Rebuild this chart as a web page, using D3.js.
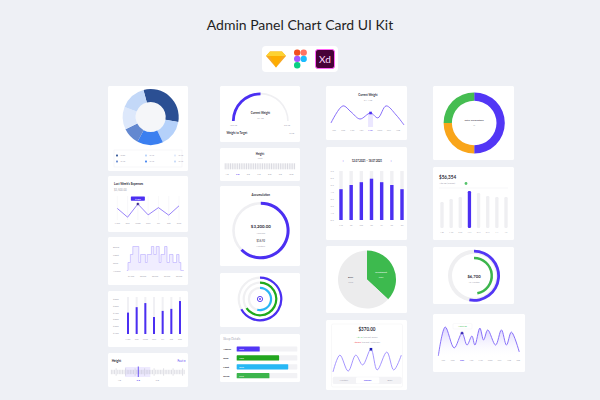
<!DOCTYPE html>
<html>
<head>
<meta charset="utf-8">
<script src="https://cdn.jsdelivr.net/npm/d3@7"></script>
<style>
  body { margin: 0; background: #eef0f5; }
  svg { display: block; }
  svg text { font-family: Lato, "Open Sans", sans-serif; }
</style>
</head>
<body>
<svg id="board" width="600" height="400"></svg>
<script>
// ---- values ----
const mixValues = [32, 15, 15, 10, 13, 15]
const mixColors = ["#2b4f93", "#b5d1fa", "#3b7ff0", "#6388d0", "#dde8fb", "#c3d8f8"]
const mixLegend = [0, 1, 4, 3, 2, 5]

const weekDays = ["Mon", "Tue", "Wed", "Thu", "Fri", "Sat", "Sun"]
const expenses = [610, 270, 780, 360, 640, 350, 710]

const sleepStages = ["Deep", "Light", "Rem", "Awake"]
const sleepHourLabels = ["01:00", "03:00", "05:00", "07:00", "09:00"]
const sleepHourValues = [1, 3, 5, 7, 9]
const sleepSteps = [[0.3, "Awake"], [0.5, "Rem"], [0.9, "Light"], [1.3, "Deep"], [2.3, "Rem"], [2.6, "Light"],
  [3.4, "Rem"], [3.7, "Light"], [4.4, "Deep"], [4.8, "Light"], [5.2, "Deep"], [5.7, "Rem"], [6.0, "Light"],
  [6.6, "Deep"], [7.0, "Rem"], [7.4, "Light"], [8.0, "Rem"], [8.6, "Light"], [9.0, "Rem"], [9.3, "Awake"], [9.8, "Awake"]]

const spendTicks = [600, 500, 400, 300, 200, 100]
const dailySpend = [400, 480, 540, 335, 425, 455, 570]

const feetSmall = [4.667, 5.667, 6.667]
const feetSmallLabels = ["4'8", "5'8", "6'8"]
const feetWide = [4.667, 5.667, 6.667, 7.667, 8.667, 9.667, 10.667]
const feetWideLabels = ["4'8", "5'8", "6'8", "7'8", "8'8", "9'8", "10'8"]

const gaugeShare = 0.5
const accrualShare = 0.625
const ringShares = [0.67, 0.655, 0.54]
const ringColors = ["#4b2ff2", "#1faa1c", "#28b6f5"]

const detailNames = ["Awake", "Rem", "Light", "Deep"]
const detailHours = [3.8, 7.0, 8.5, 5.4]
const detailText = ["3:50", "7:00", "8:30", "5:25"]
const detailColors = ["#5236f5", "#22a61f", "#27b8f5", "#3cb54c"]

const weightMonths = ["Jan", "Feb", "Mar", "Apr", "May", "June", "July", "Aug"]
const weightPoints = [[-0.33, 86.9], [0.98, 94.6], [1.86, 91.9], [2.84, 88.7], [4, 91.4], [4.8, 89.2], [5.7, 94.6], [6.8, 90.5], [7.66, 86]]

const shortDays = ["Mo", "Tu", "We", "Th", "Fr", "Sa", "Su"]
const sleepWeek = [4.4, 5.0, 5.4, 5.9, 5.4, 5.0, 4.4]
const hourTicks = [7, 6, 5, 4, 3, 2, 1, 0]

const savingNames = ["Investment", "Bank"]
const savingShares = [37, 63]

const waveX = [0, 10, 22, 33, 43, 55, 64, 78, 88, 99]
const waveY = [11, 71, 14, 71, 36, 92, 18, 82, 18, 71]

const txShares = [50, 25, 25]
const txColors = ["#5236f5", "#f9a51a", "#45bd51"]

const periods = ["1 D", "1 W", "2 W", "1 M", "3 M", "6 M", "1 Y", "All"]
const periodValues = [26, 29, 31, 37, 35, 32, 31, 31]

const goalShares = [0.53, 0.47]

const trendMonths = ["Jan", "Feb", "Mar", "Apr", "May", "June", "July", "Aug", "Sep"]
const trendPoints = [[-0.53, 6], [0.21, 86], [1.16, 28], [2, 69], [2.53, 36], [3.05, 61], [3.37, 36], [3.9, 83],
  [4.3, 50], [4.74, 78], [5.58, 36], [6.2, 78], [6.74, 36], [7.26, 72], [8.1, 17]]

// ---- helpers ----
const svg = d3.select("#board")
const ink = "#2d2d3a", mute = "#a3a3b0", violet = "#4b2ff2"

function note(x, y, s, size, fill, anchor, weight) {
  return svg.append("text")
    .attr("x", x).attr("y", y)
    .attr("font-size", size)
    .attr("fill", fill || mute)
    .attr("text-anchor", anchor || "middle")
    .attr("font-weight", weight || 400)
    .text(s)
}

// title + tool icons
note(300, 30, "Admin Panel Chart Card UI Kit", 14, "#1f1f24")
svg.append("rect").attr("x", 262).attr("y", 46).attr("width", 76).attr("height", 26).attr("rx", 4).attr("fill", "#fff")
svg.append("polygon").attr("points", "270,51.5 282,51.5 286,56 276,67.5 266,56").attr("fill", "#f7a823")
svg.append("polygon").attr("points", "270,51.5 282,51.5 286,56 266,56").attr("fill", "#fdd231")
svg.append("polygon").attr("points", "270,56 282,56 276,67.5").attr("fill", "#fdad00")
const figma = [["#f24e1e", 294, 49.5, "r"], ["#ff7262", 300.5, 49.5, "r"], ["#a259ff", 294, 55.8, "r"], ["#1abcfe", 300.5, 55.8, "c"], ["#0acf83", 294, 62.1, "b"]]
figma.forEach(f => {
  if (f[3] == "c") svg.append("circle").attr("cx", f[1] + 3.2).attr("cy", f[2] + 3.15).attr("r", 3.15).attr("fill", f[0])
  else svg.append("rect").attr("x", f[1]).attr("y", f[2]).attr("width", 6.4).attr("height", 6.3).attr("rx", 3).attr("fill", f[0])
})
svg.append("rect").attr("x", 315.5).attr("y", 49.5).attr("width", 19).attr("height", 19).attr("rx", 2.5)
  .attr("fill", "#470137").attr("stroke", "#ff61f6").attr("stroke-width", 1)
note(325, 63, "Xd", 10, "#ffd7fa", "middle", 400)

// cards
const cards = [[108, 86, 80, 85], [108, 176, 80, 56], [108, 237, 80, 48], [108, 291, 80, 56], [108, 353, 80, 34],
  [220, 86, 80, 56], [220, 148, 80, 33], [220, 186, 80, 80], [220, 273, 80, 54], [220, 334, 80, 48],
  [326, 86, 81, 54], [326, 147, 81, 93], [326, 246, 81, 67], [326, 320, 81, 70],
  [433, 86, 81, 74], [433, 167, 81, 73], [433, 247, 81, 57], [433, 314, 92, 58]]
svg.selectAll("rect.card").data(cards).join("rect").attr("class", "card")
  .attr("x", d => d[0]).attr("y", d => d[1]).attr("width", d => d[2]).attr("height", d => d[3])
  .attr("rx", 1.5).attr("fill", "#fff")

// ---- column 1 ----
// donut mix
const mixPie = d3.pie().sort(null).startAngle(-Math.PI / 12).endAngle(2 * Math.PI - Math.PI / 12)
const mixG = svg.append("g").attr("transform", "translate(150.7,117)")
mixG.append("circle").attr("r", 15).attr("fill", "#f5f6f9")
mixG.selectAll("path").data(mixPie(mixValues)).join("path")
  .attr("d", d3.arc().innerRadius(15).outerRadius(28))
  .attr("fill", (d, i) => mixColors[i])
svg.append("rect").attr("x", 114).attr("y", 150).attr("width", 68).attr("height", 17)
  .attr("fill", "none").attr("stroke", "#efeff3").attr("stroke-width", 0.5)
mixLegend.forEach((k, i) => {
  const lx = [117, 146, 175][i % 3], ly = [155.5, 161.5][Math.floor(i / 3)]
  svg.append("rect").attr("x", lx - 0.9).attr("y", ly - 0.9).attr("width", 1.8).attr("height", 1.8).attr("fill", mixColors[k])
  note(lx + 3.5, ly + 0.9, "%" + mixValues[k], 2.4, mute, "start")
})

// last week's expenses
note(114, 184.5, "Last Week's Expenses", 3, ink, "start", 700)
note(114, 191, "$3,500.00", 2.8, mute, "start")
const ex = d3.scalePoint().domain(weekDays).range([117.3, 179])
const ey = d3.scaleLinear().domain([200, 800]).range([219, 203.5])
svg.selectAll("line.exgrid").data(weekDays).join("line").attr("class", "exgrid")
  .attr("x1", d => ex(d)).attr("x2", d => ex(d)).attr("y1", 196).attr("y2", 220)
  .attr("stroke", "#f1f1f5").attr("stroke-width", 0.5)
svg.append("path").datum(expenses)
  .attr("d", d3.line().x((d, i) => ex(weekDays[i])).y(d => ey(d)))
  .attr("fill", "none").attr("stroke", "#7d63f7").attr("stroke-width", 0.8)
svg.append("rect").attr("x", ex("Wed") - 7).attr("y", 196.5).attr("width", 14).attr("height", 4.2).attr("rx", 0.6).attr("fill", violet)
note(ex("Wed"), 199.6, "$" + expenses[2], 2.5, "#fff")
svg.append("circle").attr("cx", ex("Wed")).attr("cy", ey(expenses[2])).attr("r", 1.6)
  .attr("fill", "#3b2a91").attr("stroke", "#fff").attr("stroke-width", 0.5)
weekDays.forEach(d => note(ex(d), 224, d, 2.6, mute))

// sleep stages step chart
const sx = d3.scaleLinear().domain([1, 9]).range([131, 179])
const sy = d3.scalePoint().domain(sleepStages).range([246.5, 270.5])
svg.append("path").datum(sleepSteps)
  .attr("d", d3.area().curve(d3.curveStepAfter).x(d => sx(d[0])).y0(sy("Awake")).y1(d => sy(d[1])))
  .attr("fill", "#f0edff")
svg.append("path").datum(sleepSteps)
  .attr("d", d3.line().curve(d3.curveStepAfter).x(d => sx(d[0])).y(d => sy(d[1])))
  .attr("fill", "none").attr("stroke", "#b7a9ff").attr("stroke-width", 0.6)
sleepStages.forEach(s => note(113, sy(s) + 1, s, 2.6, mute, "start"))
sleepHourValues.forEach((h, i) => note(sx(h), 276.5, sleepHourLabels[i], 2.4, mute))

// daily spend bars
const dx = d3.scalePoint().domain(weekDays).range([128, 180])
const dy = d3.scaleLinear().domain([100, 600]).range([333, 299])
spendTicks.forEach(v => note(113, dy(v) + 1, "$" + v, 2.4, mute, "start"))
svg.selectAll("rect.sptrack").data(weekDays).join("rect").attr("class", "sptrack")
  .attr("x", d => dx(d) - 1).attr("y", dy(630)).attr("width", 2).attr("height", dy(100) + 1 - dy(630)).attr("fill", "#f0f0f4")
svg.selectAll("rect.spbar").data(dailySpend).join("rect").attr("class", "spbar")
  .attr("x", (d, i) => dx(weekDays[i]) - 1).attr("y", d => dy(d)).attr("width", 2)
  .attr("height", d => dy(100) + 1 - dy(d)).attr("fill", violet)
weekDays.forEach(d => note(dx(d), 340, d, 2.4, mute))

// height ruler (small)
note(111.7, 361.5, "Height", 3.2, ink, "start", 700)
note(186, 361.5, "Feet ▾", 3, violet, "end")
const hx = d3.scaleLinear().domain([4.23, 8.18]).range([111, 186])
svg.append("rect").attr("x", hx(4.97)).attr("y", 367).attr("width", hx(6.3) - hx(4.97)).attr("height", 10).attr("fill", "#eeeaff")
svg.selectAll("line.htick").data(d3.range(51, 98)).join("line").attr("class", "htick")
  .attr("x1", d => hx(d / 12)).attr("x2", d => hx(d / 12))
  .attr("y1", d => d % 6 == 0 ? 368.3 : 369.8).attr("y2", d => d % 6 == 0 ? 375.7 : 374.2)
  .attr("stroke", "#b8b8c4").attr("stroke-width", 0.45)
svg.append("line").attr("x1", hx(feetSmall[1])).attr("x2", hx(feetSmall[1])).attr("y1", 366.5).attr("y2", 377)
  .attr("stroke", violet).attr("stroke-width", 0.8)
feetSmall.forEach((f, i) => note(hx(f), 381, feetSmallLabels[i], 2.6, i == 1 ? violet : mute))

// ---- column 2 ----
// weight gauge
const ga = d3.scaleLinear().domain([0, 1]).range([-Math.PI / 2, Math.PI / 2])
const gaugeG = svg.append("g").attr("transform", "translate(260.5,121)")
gaugeG.append("path").attr("d", d3.arc().innerRadius(26.6).outerRadius(28.2).startAngle(ga(0)).endAngle(ga(1))()).attr("fill", "#efeff2")
gaugeG.append("path").attr("d", d3.arc().innerRadius(25.8).outerRadius(28.6).startAngle(ga(0)).endAngle(ga(gaugeShare))()).attr("fill", violet)
note(260.5, 113.5, "Current Weight", 2.8, ink, "middle", 700)
note(260.5, 119, "91 kg", 2.6, mute)
note(233.3, 125.5, "105 kg", 2.4, mute)
note(287, 125.5, "55 kg", 2.4, mute)
note(226.5, 133.5, "Weight to Target", 2.8, ink, "start", 700)
note(294, 133.5, "9 kg", 2.6, mute, "end")

// height ruler (wide)
note(260, 154.5, "Height", 2.8, ink, "middle", 700)
note(260, 159.3, "Feet", 2.4, mute)
const rx2 = d3.scaleLinear().domain([4.48, 11.04]).range([225, 295])
svg.selectAll("line.wtick").data(d3.range(27, 67)).join("line").attr("class", "wtick")
  .attr("x1", d => rx2(d / 6)).attr("x2", d => rx2(d / 6)).attr("y1", 163.3).attr("y2", 169.3)
  .attr("stroke", "#c8c8d2").attr("stroke-width", 0.7)
feetWide.forEach((f, i) => note(rx2(f), 174.5, feetWideLabels[i], 2.4, i == 1 ? violet : mute))

// accumulation ring
note(260.8, 195.5, "Accumulation", 3, ink, "middle", 700)
const ringA = d3.scaleLinear().domain([0, 1]).range([0, 2 * Math.PI])
const accG = svg.append("g").attr("transform", "translate(260.8,230.5)")
accG.append("path").attr("d", d3.arc().innerRadius(26).outerRadius(28.6).startAngle(0).endAngle(ringA(1))()).attr("fill", "#efeff2")
accG.append("path").attr("d", d3.arc().innerRadius(25.8).outerRadius(28.8).startAngle(0).endAngle(ringA(accrualShare))()).attr("fill", violet)
note(260.8, 228, "$3,200.00", 4.4, ink, "middle", 700)
note(260.8, 234, "Accrued", 2.4, mute)
note(260.8, 242, "$16.92", 2.8, ink)
note(260.8, 247, "Monthly", 2.4, mute)

// concentric rings
const ringG = svg.append("g").attr("transform", "translate(260,299)")
const ringRadii = [[20.2, 22.4], [15.2, 17.4], [10, 12.2]]
ringShares.forEach((s, i) => {
  ringG.append("path").attr("d", d3.arc().innerRadius(ringRadii[i][0]).outerRadius(ringRadii[i][1]).startAngle(0).endAngle(ringA(1))()).attr("fill", "#f0f0f2")
  ringG.append("path").attr("d", d3.arc().innerRadius(ringRadii[i][0]).outerRadius(ringRadii[i][1]).startAngle(0).endAngle(ringA(s))()).attr("fill", ringColors[i])
})
ringG.append("circle").attr("r", 2.6).attr("fill", "none").attr("stroke", violet).attr("stroke-width", 0.9)
ringG.append("circle").attr("r", 0.9).attr("fill", violet)

// sleep details bars
note(223.3, 340, "Sleep Details", 3, mute, "start")
const bx = d3.scaleLinear().domain([0, 10]).range([236.7, 297.3])
const by = d3.scalePoint().domain(detailNames).range([349, 375.7])
svg.selectAll("rect.dtrack").data(detailNames).join("rect").attr("class", "dtrack")
  .attr("x", bx(0)).attr("y", d => by(d) - 2.6).attr("width", bx(10) - bx(0)).attr("height", 5.2).attr("rx", 0.6).attr("fill", "#f2f2f5")
svg.selectAll("rect.dbar").data(detailHours).join("rect").attr("class", "dbar")
  .attr("x", bx(0)).attr("y", (d, i) => by(detailNames[i]) - 2.6).attr("width", d => bx(d) - bx(0)).attr("height", 5.2)
  .attr("rx", 0.6).attr("fill", (d, i) => detailColors[i])
detailNames.forEach((n, i) => {
  note(223.3, by(n) + 1, n, 2.6, ink, "start", 700)
  note(bx(0) + 2.5, by(n) + 0.9, detailText[i], 2.3, "#fff", "start")
})

// ---- column 3 ----
// current weight line
note(368, 95.5, "Current Weight", 2.8, ink, "middle", 700)
note(368, 101.3, "91.4 kg", 2.6, mute)
const wx = d3.scaleLinear().domain([0, 7]).range([334, 398])
const wy = d3.scaleLinear().domain([86, 95]).range([125, 105])
svg.append("rect").attr("x", wx(4) - 2.5).attr("y", wy(91.4)).attr("width", 5).attr("height", 127 - wy(91.4)).attr("fill", "#ebe7ff")
svg.append("path").datum(weightPoints)
  .attr("d", d3.line().curve(d3.curveCatmullRom.alpha(0.5)).x(d => wx(d[0])).y(d => wy(d[1])))
  .attr("fill", "none").attr("stroke", "#7a5ff8").attr("stroke-width", 0.9)
svg.append("rect").attr("x", wx(4) - 1.3).attr("y", wy(91.4) - 1.3).attr("width", 2.6).attr("height", 2.6).attr("fill", violet)
weightMonths.forEach((m, i) => note(wx(i), 131, m, 2.4, i == 4 ? violet : mute))

// weekly sleep bars
note(343, 162, "‹", 4, violet)
note(391, 162, "›", 4, violet)
note(367, 161.8, "12.07.2021 – 18.07.2021", 2.7, ink, "middle", 700)
const kx = d3.scalePoint().domain(shortDays).range([341, 402])
const ky = d3.scaleLinear().domain([0, 7]).range([220, 171])
hourTicks.forEach(h => note(330.5, ky(h) + 0.9, h + " h", 2.3, mute, "start"))
svg.selectAll("rect.ktrack").data(shortDays).join("rect").attr("class", "ktrack")
  .attr("x", d => kx(d) - 1.7).attr("y", ky(7)).attr("width", 3.4).attr("height", ky(0) - ky(7)).attr("fill", "#f0f0f3")
svg.selectAll("rect.kbar").data(sleepWeek).join("rect").attr("class", "kbar")
  .attr("x", (d, i) => kx(shortDays[i]) - 1.7).attr("y", d => ky(d)).attr("width", 3.4).attr("height", d => ky(0) - ky(d)).attr("fill", violet)
shortDays.forEach(d => note(kx(d), 225.8, d, 2.4, mute))

// savings pie
const savG = svg.append("g").attr("transform", "translate(367,279.5)")
savG.selectAll("path").data(d3.pie().sort(null)(savingShares)).join("path")
  .attr("d", d3.arc().innerRadius(0).outerRadius(29))
  .attr("fill", (d, i) => ["#3dba4e", "#ececed"][i])
note(381, 272.5, savingNames[0], 2.4, "#fff")
note(381, 277.5, "%" + savingShares[0], 2.4, "#e6ffe9")
note(350.7, 277.8, savingNames[1], 2.4, ink)
note(350.7, 282.5, "%" + savingShares[1], 2.4, mute)

// $370 wave
svg.append("rect").attr("x", 331.5).attr("y", 324).attr("width", 71).attr("height", 63).attr("rx", 1.5)
  .attr("fill", "none").attr("stroke", "#f0f0f3").attr("stroke-width", 0.5)
note(367, 331, "$370.00", 4.6, ink, "middle", 700)
const upLine = note(367, 337.5, "", 2.4, mute)
upLine.append("tspan").attr("fill", "#3fbf5a").text("+$4.9 ")
upLine.append("tspan").text("(%0.00) Today")
const downLine = note(367, 342.8, "", 2.4, mute)
downLine.append("tspan").attr("fill", "#f0414e").text("-$0.66 ")
downLine.append("tspan").text("(%0.00) Yesterday")
const vx = d3.scaleLinear().domain([0, 100]).range([333, 402])
const vy = d3.scaleLinear().domain([0, 100]).range([375, 347])
svg.append("path").datum(waveX)
  .attr("d", d3.line().curve(d3.curveCatmullRom.alpha(0.5)).x(d => vx(d)).y((d, i) => vy(waveY[i])))
  .attr("fill", "none").attr("stroke", "#8f7bff").attr("stroke-width", 0.8)
svg.append("rect").attr("x", vx(waveX[5]) - 1.3).attr("y", vy(waveY[5]) - 1.3).attr("width", 2.6).attr("height", 2.6).attr("fill", "#1b1bb5")
svg.append("rect").attr("x", 332.7).attr("y", 376.7).attr("width", 69).attr("height", 7.3).attr("rx", 1.5).attr("fill", "#f3f3f6")
svg.append("rect").attr("x", 356).attr("y", 377.3).attr("width", 23.3).attr("height", 6.1).attr("rx", 1.2).attr("fill", "#fff")
note(344, 381.2, "Monthly", 2.3, mute)
note(367.7, 381.2, "Weekly", 2.3, violet, "middle", 700)
note(390, 381.2, "Daily", 2.3, mute)

// ---- column 4 ----
// total transaction donut
const txG = svg.append("g").attr("transform", "translate(474.2,123)")
txG.selectAll("path").data(d3.pie().sort(null)(txShares)).join("path")
  .attr("d", d3.arc().innerRadius(22.3).outerRadius(30.6))
  .attr("fill", (d, i) => txColors[i])
note(474.2, 120.5, "Total Transaction", 2.6, ink)
note(474.2, 126, "%", 2.4, mute)

// period bars
note(439, 178.5, "$56,354", 4.6, ink, "start", 700)
note(439, 184.3, "+$3.78 (%0.00)", 2.4, mute, "start")
svg.append("circle").attr("cx", 466).attr("cy", 183.5).attr("r", 1.4).attr("fill", "#56c46c")
svg.append("line").attr("x1", 439).attr("x2", 508).attr("y1", 188).attr("y2", 188).attr("stroke", "#efeff3").attr("stroke-width", 0.5)
const px = d3.scalePoint().domain(periods).range([442, 506])
const py = d3.scaleLinear().domain([0, 40]).range([228, 188])
svg.selectAll("rect.pbar").data(periodValues).join("rect").attr("class", "pbar")
  .attr("x", (d, i) => px(periods[i]) - 1.65).attr("y", d => py(d)).attr("width", 3.3).attr("height", d => py(0) - py(d))
  .attr("rx", 1.2).attr("fill", (d, i) => i == 3 ? violet : "#efeff2")
periods.forEach(p => note(px(p), 232.5, p, 2.2, mute))

// goal rings
const goalG = svg.append("g").attr("transform", "translate(474,275.8)")
goalG.append("path").attr("d", d3.arc().innerRadius(22).outerRadius(26).startAngle(0).endAngle(ringA(1))()).attr("fill", "#efeff1")
goalG.append("path").attr("d", d3.arc().innerRadius(23.2).outerRadius(26).startAngle(0).endAngle(ringA(goalShares[0]))()).attr("fill", "#5236f5")
goalG.append("path").attr("d", d3.arc().innerRadius(16.5).outerRadius(19).startAngle(0).endAngle(ringA(goalShares[1]))()).attr("fill", "#3cb54c")
note(474, 277.5, "$6,700", 4.2, ink, "middle", 700)
note(474, 283, "12 Months", 2.3, mute)

// monthly trend area
const defs = svg.append("defs")
const grad = defs.append("linearGradient").attr("id", "trendFill").attr("x1", 0).attr("x2", 0).attr("y1", 0).attr("y2", 1)
grad.append("stop").attr("offset", "0%").attr("stop-color", "#cfc5ff").attr("stop-opacity", 0.8)
grad.append("stop").attr("offset", "100%").attr("stop-color", "#ffffff").attr("stop-opacity", 0)
const tx = d3.scaleLinear().domain([0, 8]).range([443.3, 518.3])
const ty = d3.scaleLinear().domain([0, 100]).range([358, 322])
svg.append("path").datum(trendPoints)
  .attr("d", d3.area().curve(d3.curveCatmullRom.alpha(0.5)).x(d => tx(d[0])).y0(ty(0)).y1(d => ty(d[1])))
  .attr("fill", "url(#trendFill)")
svg.append("path").datum(trendPoints)
  .attr("d", d3.line().curve(d3.curveCatmullRom.alpha(0.5)).x(d => tx(d[0])).y(d => ty(d[1])))
  .attr("fill", "none").attr("stroke", "#7c62f7").attr("stroke-width", 0.9)
svg.append("rect").attr("x", 453).attr("y", 323.6).attr("width", 19).attr("height", 5.4).attr("rx", 1)
  .attr("fill", "#fff").attr("stroke", "#f0f0f3").attr("stroke-width", 0.4)
note(462.5, 327.3, "1925.96", 2.4, "#3fbf5a")
svg.append("circle").attr("cx", tx(trendPoints[3][0])).attr("cy", ty(trendPoints[3][1])).attr("r", 1.7)
  .attr("fill", "#3c2bb8").attr("stroke", "#fff").attr("stroke-width", 0.5)
trendMonths.forEach((m, i) => note(tx(i), 361, m, 2.3, i == 2 ? violet : mute, "middle", i == 2 ? 700 : 400))
</script>
</body>
</html>
